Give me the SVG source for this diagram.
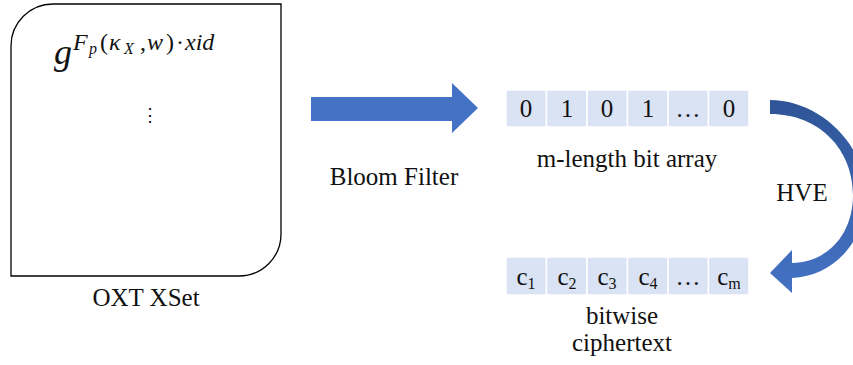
<svg xmlns="http://www.w3.org/2000/svg" width="853" height="365" viewBox="0 0 853 365">
  <defs>
    <linearGradient id="hveGrad" x1="0" y1="0" x2="0" y2="1">
      <stop offset="0" stop-color="#2F5597"/>
      <stop offset="1" stop-color="#4472C4"/>
    </linearGradient>
  </defs>
  <style>
    .lbl { font-family: "Liberation Serif", "Times New Roman", serif; font-size: 25px; fill: #111; }
    .cell { fill: #DAE3F3; stroke: #FFFFFF; stroke-width: 1.5; }
    .bit { font-family: "Liberation Serif", "Times New Roman", serif; font-size: 25px; fill: #111; text-anchor: middle; }
    .math { font-family: "Liberation Serif", "Times New Roman", serif; fill: #111; }
    .it { font-style: italic; }
    .blue { fill: #4472C4; }
  </style>

  <!-- XSet container with its element formula -->
  <g id="xset">
    <path d="M 11,276 L 11,46 A 42,42 0 0 1 53,4 L 281,4 L 281,234 A 42,42 0 0 1 239,276 Z" fill="#FFFFFF" stroke="#000" stroke-width="1.3"/>
    <text class="math" font-size="36" x="54" y="64"><tspan class="it">g</tspan></text>
    <text class="math" font-size="24" y="50">
      <tspan class="it" x="73">F</tspan><tspan class="it" font-size="16" x="89" y="54">p</tspan><tspan x="100" y="50">(</tspan><tspan class="it" x="109">κ</tspan><tspan class="it" font-size="16" x="124" y="54">X</tspan><tspan x="140" y="50">,</tspan><tspan class="it" x="147">w</tspan><tspan x="166">)</tspan><tspan x="176">·</tspan><tspan class="it" x="185">xid</tspan>
    </text>
    <text class="math" font-size="18" x="150" y="121" text-anchor="middle">⋮</text>
    <text class="lbl" x="146" y="306" text-anchor="middle">OXT XSet</text>
  </g>

  <!-- Bloom filter bit array -->
  <g id="bitarray">
    <rect class="cell" x="506" y="90" width="40.5" height="37"/>
    <rect class="cell" x="546.5" y="90" width="40.5" height="37"/>
    <rect class="cell" x="587" y="90" width="40.5" height="37"/>
    <rect class="cell" x="627.5" y="90" width="40.5" height="37"/>
    <rect class="cell" x="668" y="90" width="40.5" height="37"/>
    <rect class="cell" x="708.5" y="90" width="40.5" height="37"/>
    <text class="bit" x="526" y="117">0</text>
    <text class="bit" x="567" y="117">1</text>
    <text class="bit" x="607" y="117">0</text>
    <text class="bit" x="648" y="117">1</text>
    <text class="bit" x="688" y="117">…</text>
    <text class="bit" x="729" y="117">0</text>
    <text class="lbl" x="627" y="167" text-anchor="middle">m-length bit array</text>
  </g>

  <!-- per-bit ciphertexts -->
  <g id="ciphertext">
    <rect class="cell" x="506" y="257" width="40.5" height="38"/>
    <rect class="cell" x="546.5" y="257" width="40.5" height="38"/>
    <rect class="cell" x="587" y="257" width="40.5" height="38"/>
    <rect class="cell" x="627.5" y="257" width="40.5" height="38"/>
    <rect class="cell" x="668" y="257" width="40.5" height="38"/>
    <rect class="cell" x="708.5" y="257" width="40.5" height="38"/>
    <text class="bit" x="526" y="285">c<tspan font-size="16" dy="4">1</tspan></text>
    <text class="bit" x="567" y="285">c<tspan font-size="16" dy="4">2</tspan></text>
    <text class="bit" x="607" y="285">c<tspan font-size="16" dy="4">3</tspan></text>
    <text class="bit" x="648" y="285">c<tspan font-size="16" dy="4">4</tspan></text>
    <text class="bit" x="688" y="285">…</text>
    <text class="bit" x="729" y="285">c<tspan font-size="16" dy="4">m</tspan></text>
    <text class="lbl" x="622" y="324" text-anchor="middle">bitwise</text>
    <text class="lbl" x="622" y="351" text-anchor="middle">ciphertext</text>
  </g>

  <!-- block arrows with their labels -->
  <g id="connectors">
    <path class="blue" d="M 311,97 L 452,97 L 452,83 L 478,108 L 452,133 L 452,121 L 311,121 Z"/>
    <text class="lbl" x="394" y="185" text-anchor="middle">Bloom Filter</text>
    <path fill="url(#hveGrad)" d="M 770,100 C 820,100 866,145 866,195 C 866,240 835,276 792,278 L 792,293 L 770,273 L 792,250 L 792,263 C 830,262 853,232 853,195 C 853,150 820,114 770,114 Z"/>
    <text class="lbl" x="802" y="201" text-anchor="middle">HVE</text>
  </g>
</svg>
